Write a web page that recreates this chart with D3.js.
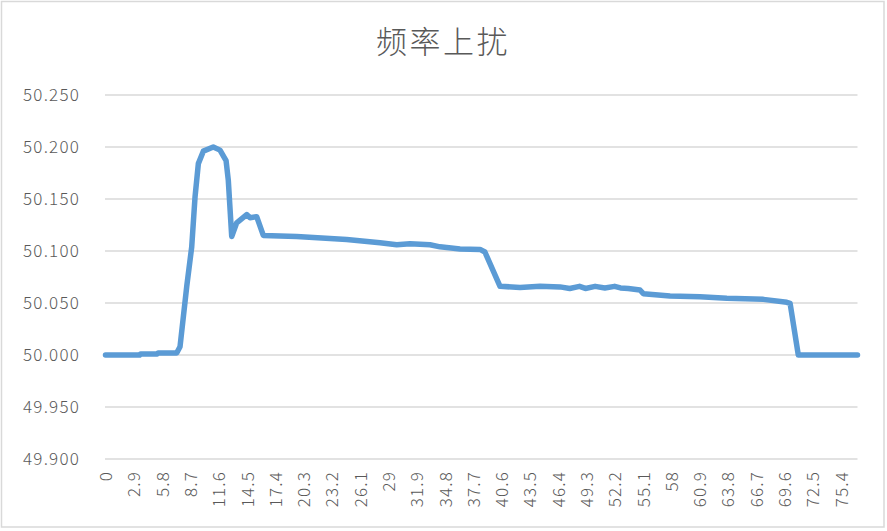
<!DOCTYPE html>
<html><head><meta charset="utf-8">
<script src="https://cdn.jsdelivr.net/npm/d3@7"></script>
<style>
html,body{margin:0;padding:0;background:#fff;}
text{font-family:"Noto Sans CJK SC","Noto Sans",sans-serif;fill:#595959;}
</style></head>
<body>
<svg id="c" width="887" height="531"></svg>
<script>
const title = "频率上扰";
const xTickLabels = ["0","2.9","5.8","8.7","11.6","14.5","17.4","20.3","23.2","26.1","29","31.9","34.8","37.7","40.6","43.5","46.4","49.3","52.2","55.1","58","60.9","63.8","66.7","69.6","72.5","75.4"];
const yTicks = [49.90,49.95,50.00,50.05,50.10,50.15,50.20,50.25];
// time (s) and frequency (Hz)
const times = [0,3.5,3.6,5.3,5.4,7.3,7.64,8.33,8.84,9.18,9.52,10.03,11.05,11.74,12.36,12.59,12.94,13.45,14.48,14.82,15.5,16.18,19.6,24.73,28.14,29.86,31.22,33.27,34.3,36.35,38.4,38.9,40.45,42.5,44.55,46.6,47.6,48.6,49.2,50.2,51.2,52.2,52.8,53.6,54.8,55.14,57.88,60.95,63.7,67.45,69.85,70.19,71.03,77.1];
const freq  = [50.000,50.000,50.001,50.001,50.002,50.002,50.008,50.066,50.104,50.152,50.184,50.196,50.200,50.197,50.187,50.168,50.114,50.127,50.135,50.132,50.133,50.115,50.114,50.111,50.108,50.106,50.107,50.106,50.104,50.102,50.1015,50.099,50.066,50.065,50.066,50.0655,50.064,50.066,50.064,50.066,50.0645,50.066,50.0645,50.064,50.0625,50.059,50.0567,50.056,50.0545,50.0535,50.0507,50.0497,50.000,50.000];

const svg = d3.select("#c");
svg.append("rect").attr("x",1.5).attr("y",1.5).attr("width",882.5).attr("height",525.5)
  .attr("fill","#fff").attr("stroke","#d9d9d9").attr("stroke-width",1.5);

const x = d3.scaleLinear().domain([0,77.1]).range([105.5,857.5]);
const y = d3.scaleLinear().domain([49.9,50.25]).range([459,95]);

// grid
svg.append("g").selectAll("line").data(yTicks).join("line")
  .attr("x1",105).attr("x2",857.5)
  .attr("y1",d=>y(d)).attr("y2",d=>y(d))
  .attr("stroke","#d9d9d9").attr("stroke-width",1.3);

// y labels
svg.append("g").selectAll("text").data(yTicks).join("text")
  .attr("x",80).attr("y",d=>y(d)).attr("dy","0.36em")
  .attr("text-anchor","end").style("font-size","17px").style("font-weight",300)
  .style("letter-spacing","1.2px")
  .text(d=>d3.format(".3f")(d));

// x labels
svg.append("g").selectAll("text").data(xTickLabels).join("text")
  .attr("transform",d=>`translate(${x(+d)+0.5},471) rotate(-90)`)
  .attr("dy","0.36em").attr("text-anchor","end")
  .style("font-size","17px").style("font-weight",300).style("letter-spacing","1.2px")
  .text(d=>d);

// line
const pts = times.map((t,i)=>[t,freq[i]]);
svg.append("path").datum(pts)
  .attr("d",d3.line().x(d=>x(d[0])).y(d=>y(d[1])))
  .attr("fill","none").attr("stroke","#5B9BD5").attr("stroke-width",5.5)
  .attr("stroke-linejoin","round").attr("stroke-linecap","round");

// title
svg.append("text").attr("x",443).attr("y",53).attr("text-anchor","middle")
  .style("font-size","31px").style("font-weight",300).style("letter-spacing","2.5px")
  .text(title);
</script>
</body></html>
